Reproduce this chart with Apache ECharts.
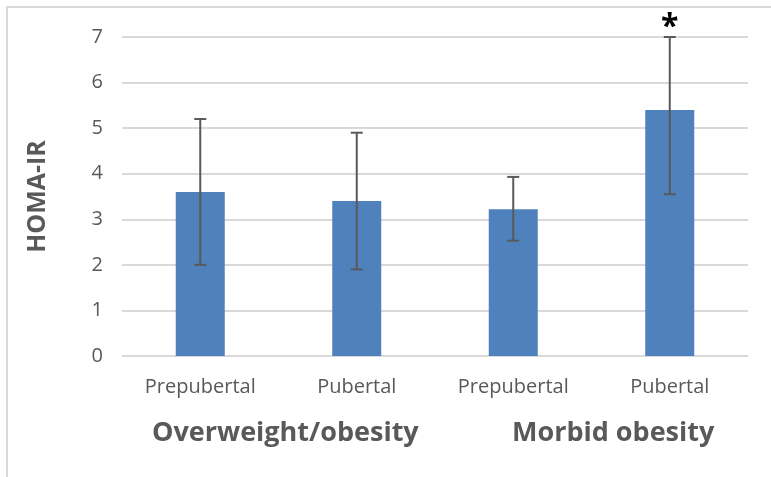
<!DOCTYPE html>
<html>
<head>
<meta charset="utf-8">
<script src="https://cdn.jsdelivr.net/npm/echarts@6/dist/echarts.min.js"></script>
<style>
  html, body { margin: 0; padding: 0; background: #fff; }
  #chart { width: 771px; height: 477px; }
</style>
</head>
<body>
<div id="chart"></div>
<script>
// HOMA-IR by pubertal stage within each weight group
const categories = ['Prepubertal', 'Pubertal', 'Prepubertal', 'Pubertal'];
const groups = ['Overweight/obesity', 'Morbid obesity'];
const homaMean = [3.6, 3.4, 3.22, 5.4];
const errLow = [2.0, 1.9, 2.53, 3.55];
const errHigh = [5.2, 4.9, 3.93, 7.0];
const significance = ['', '', '', '*'];
const yTicks = [0, 1, 2, 3, 4, 5, 6, 7];

const textColor = '#595959';
const fontFamily = '"Open Sans", "Noto Sans", sans-serif';

const chart = echarts.init(document.getElementById('chart'));

const errorData = categories.map((c, i) => [i, errLow[i], errHigh[i], significance[i]]);

chart.setOption({
  animation: false,
  grid: { left: 122, right: 23, top: 37, bottom: 121 },
  xAxis: {
    type: 'category',
    data: categories,
    axisLine: { show: false },
    axisTick: { show: false },
    axisLabel: { color: textColor, fontSize: 20, fontFamily: fontFamily, margin: 21 }
  },
  yAxis: {
    type: 'value',
    min: yTicks[0],
    max: yTicks[yTicks.length - 1],
    interval: 1,
    name: 'HOMA-IR',
    nameLocation: 'middle',
    nameGap: 72,
    nameTextStyle: { color: textColor, fontSize: 25, fontWeight: 'bold', fontFamily: fontFamily },
    axisLine: { show: false },
    axisTick: { show: false },
    axisLabel: { color: textColor, fontSize: 20, fontFamily: fontFamily, margin: 19 },
    splitLine: { lineStyle: { color: '#D9D9D9', width: 2 } }
  },
  series: [
    {
      type: 'bar',
      data: homaMean,
      barWidth: 49,
      itemStyle: { color: '#4F81BD' }
    },
    {
      type: 'custom',
      data: errorData,
      z: 5,
      renderItem: function (params, api) {
        const x = api.value(0);
        const lo = api.coord([x, api.value(1)]);
        const hi = api.coord([x, api.value(2)]);
        const cap = 6;
        const style = { stroke: '#595959', lineWidth: 2 };
        const children = [
          { type: 'line', shape: { x1: lo[0], y1: lo[1], x2: hi[0], y2: hi[1] }, style: style },
          { type: 'line', shape: { x1: lo[0] - cap, y1: lo[1], x2: lo[0] + cap, y2: lo[1] }, style: style },
          { type: 'line', shape: { x1: hi[0] - cap, y1: hi[1], x2: hi[0] + cap, y2: hi[1] }, style: style }
        ];
        const mark = api.value(3);
        if (mark) {
          children.push({
            type: 'text',
            style: {
              text: mark, x: hi[0], y: hi[1] - 9,
              align: 'center', verticalAlign: 'middle',
              fill: '#000', font: 'bold 32px ' + fontFamily
            }
          });
        }
        return { type: 'group', children: children };
      },
      dimensions: ['x', 'low', 'high', 'mark'],
      encode: { x: 0, y: [1, 2] }
    }
  ],
  graphic: [
    // chart frame
    { type: 'polyline', silent: true,
      shape: { points: [[7, 477], [7, 7], [771, 7]] },
      style: { stroke: '#D9D9D9', lineWidth: 2, fill: null } },
    { type: 'text', left: 152, top: 420,
      style: { text: groups[0], fill: textColor, font: 'bold 27px ' + fontFamily } },
    { type: 'text', left: 512, top: 420,
      style: { text: groups[1], fill: textColor, font: 'bold 27px ' + fontFamily } }
  ]
});
</script>
</body>
</html>
